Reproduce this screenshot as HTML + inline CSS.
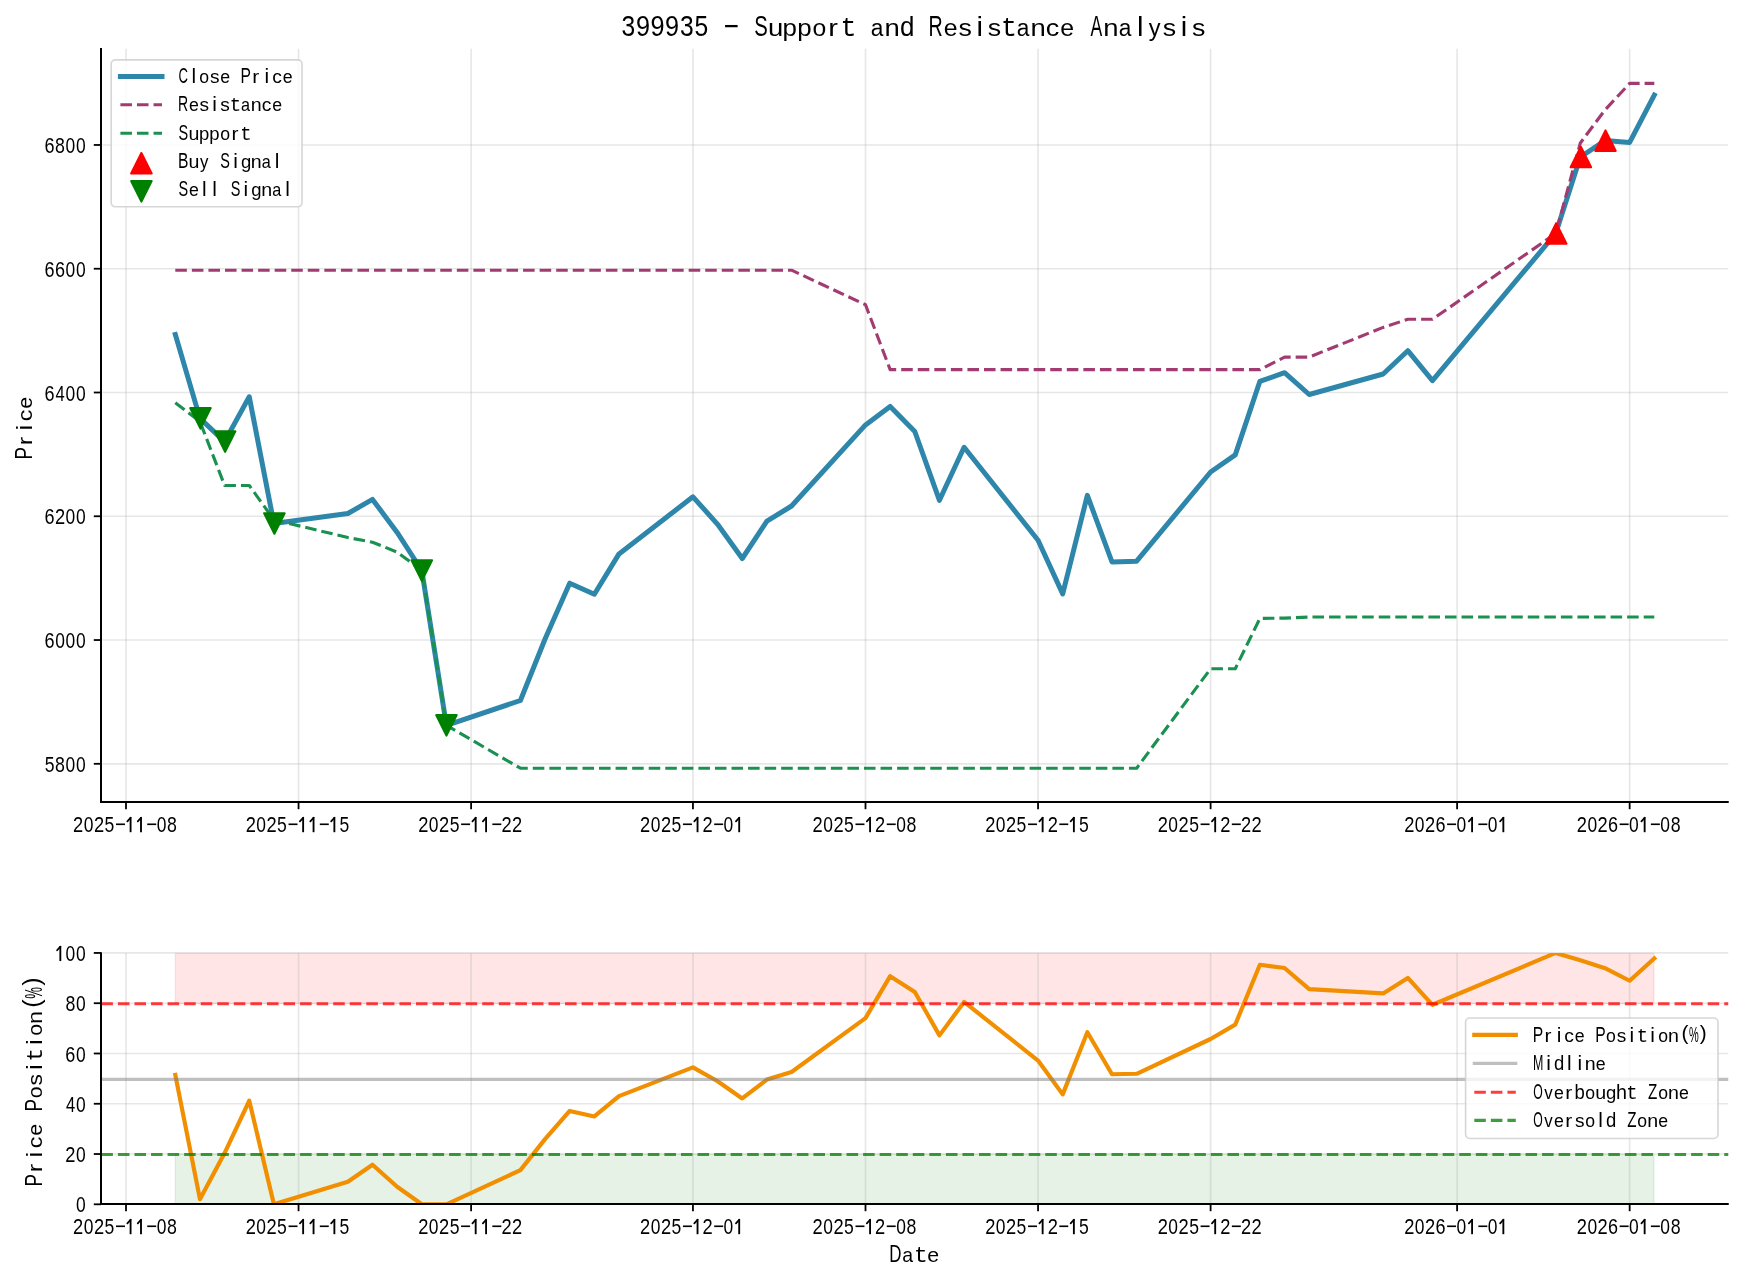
<!DOCTYPE html>
<html><head><meta charset="utf-8"><title>399935 - Support and Resistance Analysis</title>
<style>html,body{margin:0;padding:0;background:#fff;}svg{display:block;will-change:transform;}</style>
</head><body>
<svg width="1743" height="1281" viewBox="0 0 1743 1281" font-family="Liberation Sans, sans-serif">
<rect width="1743" height="1281" fill="#fff"/>
<defs>
<clipPath id="ct"><rect x="101.35" y="48.8" width="1626.9" height="753.2"/></clipPath>
<clipPath id="cb"><rect x="101.35" y="952.95" width="1626.9" height="250.34999999999997"/></clipPath>
</defs>
<line x1="126.00" y1="48.8" x2="126.00" y2="801.0" stroke="#b0b0b0" stroke-opacity="0.3" stroke-width="1.67"/>
<line x1="298.55" y1="48.8" x2="298.55" y2="801.0" stroke="#b0b0b0" stroke-opacity="0.3" stroke-width="1.67"/>
<line x1="471.10" y1="48.8" x2="471.10" y2="801.0" stroke="#b0b0b0" stroke-opacity="0.3" stroke-width="1.67"/>
<line x1="692.95" y1="48.8" x2="692.95" y2="801.0" stroke="#b0b0b0" stroke-opacity="0.3" stroke-width="1.67"/>
<line x1="865.50" y1="48.8" x2="865.50" y2="801.0" stroke="#b0b0b0" stroke-opacity="0.3" stroke-width="1.67"/>
<line x1="1038.05" y1="48.8" x2="1038.05" y2="801.0" stroke="#b0b0b0" stroke-opacity="0.3" stroke-width="1.67"/>
<line x1="1210.60" y1="48.8" x2="1210.60" y2="801.0" stroke="#b0b0b0" stroke-opacity="0.3" stroke-width="1.67"/>
<line x1="1457.10" y1="48.8" x2="1457.10" y2="801.0" stroke="#b0b0b0" stroke-opacity="0.3" stroke-width="1.67"/>
<line x1="1629.65" y1="48.8" x2="1629.65" y2="801.0" stroke="#b0b0b0" stroke-opacity="0.3" stroke-width="1.67"/>
<line x1="102.35" y1="763.80" x2="1728.25" y2="763.80" stroke="#b0b0b0" stroke-opacity="0.3" stroke-width="1.67"/>
<line x1="102.35" y1="640.03" x2="1728.25" y2="640.03" stroke="#b0b0b0" stroke-opacity="0.3" stroke-width="1.67"/>
<line x1="102.35" y1="516.26" x2="1728.25" y2="516.26" stroke="#b0b0b0" stroke-opacity="0.3" stroke-width="1.67"/>
<line x1="102.35" y1="392.50" x2="1728.25" y2="392.50" stroke="#b0b0b0" stroke-opacity="0.3" stroke-width="1.67"/>
<line x1="102.35" y1="268.73" x2="1728.25" y2="268.73" stroke="#b0b0b0" stroke-opacity="0.3" stroke-width="1.67"/>
<line x1="102.35" y1="144.96" x2="1728.25" y2="144.96" stroke="#b0b0b0" stroke-opacity="0.3" stroke-width="1.67"/>
<g clip-path="url(#ct)">
<polyline points="175.30,334.50 199.95,418.40 224.60,441.60 249.25,396.80 273.90,523.45 347.85,513.50 372.50,499.40 397.15,532.40 421.80,570.50 446.45,725.40 520.40,700.50 545.05,639.00 569.70,583.20 594.35,594.20 619.00,553.90 692.95,496.80 717.60,524.30 742.25,558.50 766.90,521.10 791.55,506.00 865.50,424.90 890.15,406.40 914.80,431.50 939.45,500.30 964.10,447.30 1038.05,540.20 1062.70,593.90 1087.35,495.40 1112.00,562.00 1136.65,561.20 1210.60,472.00 1235.25,454.90 1259.90,381.30 1284.55,372.70 1309.20,394.50 1383.15,374.00 1407.80,350.70 1432.45,380.70 1555.70,233.50 1580.35,157.00 1605.00,140.60 1629.65,142.40 1654.30,95.00" fill="none" stroke="#2E86AB" stroke-width="5.0" stroke-linecap="square" stroke-linejoin="round"/>
<polyline points="175.30,270.20 199.95,270.20 224.60,270.20 249.25,270.20 273.90,270.20 347.85,270.20 372.50,270.20 397.15,270.20 421.80,270.20 446.45,270.20 520.40,270.20 545.05,270.20 569.70,270.20 594.35,270.20 619.00,270.20 692.95,270.20 717.60,270.20 742.25,270.20 766.90,270.20 791.55,270.20 865.50,304.70 890.15,369.60 914.80,369.60 939.45,369.60 964.10,369.60 1038.05,369.60 1062.70,369.60 1087.35,369.60 1112.00,369.60 1136.65,369.60 1210.60,369.60 1235.25,369.60 1259.90,369.60 1284.55,357.10 1309.20,357.10 1383.15,327.40 1407.80,319.30 1432.45,319.30 1555.70,233.50 1580.35,143.00 1605.00,109.90 1629.65,83.40 1654.30,83.40" fill="none" stroke="#A23B72" stroke-width="3.125" stroke-dasharray="11.56 5.0" stroke-linejoin="round"/>
<polyline points="175.30,402.70 199.95,421.50 224.60,485.50 249.25,485.50 273.90,519.80 347.85,537.50 372.50,542.20 397.15,552.10 421.80,570.50 446.45,725.40 520.40,768.20 545.05,768.20 569.70,768.20 594.35,768.20 619.00,768.20 692.95,768.20 717.60,768.20 742.25,768.20 766.90,768.20 791.55,768.20 865.50,768.20 890.15,768.20 914.80,768.20 939.45,768.20 964.10,768.20 1038.05,768.20 1062.70,768.20 1087.35,768.20 1112.00,768.20 1136.65,768.20 1210.60,668.70 1235.25,668.70 1259.90,618.40 1284.55,618.10 1309.20,617.00 1383.15,617.00 1407.80,617.00 1432.45,617.00 1555.70,617.00 1580.35,617.00 1605.00,617.00 1629.65,617.00 1654.30,617.00" fill="none" stroke="#1A9150" stroke-width="3.125" stroke-dasharray="11.56 5.0" stroke-linejoin="round"/>
<g fill="#ff0000" stroke="#ff0000" stroke-width="2.1" stroke-linejoin="round"><polygon points="1556.20,223.25 1545.95,243.75 1566.45,243.75"/><polygon points="1580.85,146.75 1570.60,167.25 1591.10,167.25"/><polygon points="1605.50,130.35 1595.25,150.85 1615.75,150.85"/></g>
<g fill="#008000" stroke="#008000" stroke-width="2.1" stroke-linejoin="round"><polygon points="190.20,408.15 210.70,408.15 200.45,428.65"/><polygon points="214.85,431.35 235.35,431.35 225.10,451.85"/><polygon points="264.15,513.20 284.65,513.20 274.40,533.70"/><polygon points="411.55,560.25 432.05,560.25 421.80,580.75"/><polygon points="436.20,715.15 456.70,715.15 446.45,735.65"/></g>
</g>
<line x1="101" y1="48" x2="101" y2="803" stroke="#000" stroke-width="2"/>
<line x1="100" y1="802" x2="1728.75" y2="802" stroke="#000" stroke-width="2"/>
<line x1="126.00" y1="802" x2="126.00" y2="809.2" stroke="#000" stroke-width="1.8"/>
<line x1="298.55" y1="802" x2="298.55" y2="809.2" stroke="#000" stroke-width="1.8"/>
<line x1="471.10" y1="802" x2="471.10" y2="809.2" stroke="#000" stroke-width="1.8"/>
<line x1="692.95" y1="802" x2="692.95" y2="809.2" stroke="#000" stroke-width="1.8"/>
<line x1="865.50" y1="802" x2="865.50" y2="809.2" stroke="#000" stroke-width="1.8"/>
<line x1="1038.05" y1="802" x2="1038.05" y2="809.2" stroke="#000" stroke-width="1.8"/>
<line x1="1210.60" y1="802" x2="1210.60" y2="809.2" stroke="#000" stroke-width="1.8"/>
<line x1="1457.10" y1="802" x2="1457.10" y2="809.2" stroke="#000" stroke-width="1.8"/>
<line x1="1629.65" y1="802" x2="1629.65" y2="809.2" stroke="#000" stroke-width="1.8"/>
<line x1="93.8" y1="763.80" x2="101" y2="763.80" stroke="#000" stroke-width="1.8"/>
<line x1="93.8" y1="640.03" x2="101" y2="640.03" stroke="#000" stroke-width="1.8"/>
<line x1="93.8" y1="516.26" x2="101" y2="516.26" stroke="#000" stroke-width="1.8"/>
<line x1="93.8" y1="392.50" x2="101" y2="392.50" stroke="#000" stroke-width="1.8"/>
<line x1="93.8" y1="268.73" x2="101" y2="268.73" stroke="#000" stroke-width="1.8"/>
<line x1="93.8" y1="144.96" x2="101" y2="144.96" stroke="#000" stroke-width="1.8"/>
<g font-size="20.83" fill="#000"><text transform="translate(73.11,832.20) scale(0.878,1.055)">2</text><text transform="translate(83.76,832.20) scale(0.837,1.055)">0</text><text transform="translate(93.94,832.20) scale(0.878,1.055)">2</text><text transform="translate(104.57,832.20) scale(0.844,1.055)">5</text><rect x="116.00" y="823.47" width="8.96" height="1.62"/><path d="M129.65,817.15H131.52V832.20H129.65Z"/><line x1="130.58" y1="817.77" x2="127.35" y2="821.42" stroke="#000" stroke-width="1.77" stroke-linecap="round"/><path d="M140.06,817.15H141.93V832.20H140.06Z"/><line x1="141.00" y1="817.77" x2="137.77" y2="821.42" stroke="#000" stroke-width="1.77" stroke-linecap="round"/><rect x="147.25" y="823.47" width="8.96" height="1.62"/><text transform="translate(156.67,832.20) scale(0.837,1.055)">0</text><text transform="translate(166.99,832.20) scale(0.852,1.055)">8</text></g>
<g font-size="20.83" fill="#000"><text transform="translate(245.66,832.20) scale(0.878,1.055)">2</text><text transform="translate(256.31,832.20) scale(0.837,1.055)">0</text><text transform="translate(266.49,832.20) scale(0.878,1.055)">2</text><text transform="translate(277.12,832.20) scale(0.844,1.055)">5</text><rect x="288.55" y="823.47" width="8.96" height="1.62"/><path d="M302.20,817.15H304.07V832.20H302.20Z"/><line x1="303.13" y1="817.77" x2="299.90" y2="821.42" stroke="#000" stroke-width="1.77" stroke-linecap="round"/><path d="M312.61,817.15H314.48V832.20H312.61Z"/><line x1="313.55" y1="817.77" x2="310.32" y2="821.42" stroke="#000" stroke-width="1.77" stroke-linecap="round"/><rect x="319.80" y="823.47" width="8.96" height="1.62"/><path d="M333.44,817.15H335.31V832.20H333.44Z"/><line x1="334.38" y1="817.77" x2="331.15" y2="821.42" stroke="#000" stroke-width="1.77" stroke-linecap="round"/><text transform="translate(339.61,832.20) scale(0.844,1.055)">5</text></g>
<g font-size="20.83" fill="#000"><text transform="translate(418.21,832.20) scale(0.878,1.055)">2</text><text transform="translate(428.86,832.20) scale(0.837,1.055)">0</text><text transform="translate(439.04,832.20) scale(0.878,1.055)">2</text><text transform="translate(449.67,832.20) scale(0.844,1.055)">5</text><rect x="461.10" y="823.47" width="8.96" height="1.62"/><path d="M474.75,817.15H476.62V832.20H474.75Z"/><line x1="475.68" y1="817.77" x2="472.45" y2="821.42" stroke="#000" stroke-width="1.77" stroke-linecap="round"/><path d="M485.16,817.15H487.03V832.20H485.16Z"/><line x1="486.10" y1="817.77" x2="482.87" y2="821.42" stroke="#000" stroke-width="1.77" stroke-linecap="round"/><rect x="492.35" y="823.47" width="8.96" height="1.62"/><text transform="translate(501.53,832.20) scale(0.878,1.055)">2</text><text transform="translate(511.94,832.20) scale(0.878,1.055)">2</text></g>
<g font-size="20.83" fill="#000"><text transform="translate(640.06,832.20) scale(0.878,1.055)">2</text><text transform="translate(650.71,832.20) scale(0.837,1.055)">0</text><text transform="translate(660.89,832.20) scale(0.878,1.055)">2</text><text transform="translate(671.52,832.20) scale(0.844,1.055)">5</text><rect x="682.95" y="823.47" width="8.96" height="1.62"/><path d="M696.60,817.15H698.47V832.20H696.60Z"/><line x1="697.53" y1="817.77" x2="694.30" y2="821.42" stroke="#000" stroke-width="1.77" stroke-linecap="round"/><text transform="translate(702.55,832.20) scale(0.878,1.055)">2</text><rect x="714.20" y="823.47" width="8.96" height="1.62"/><text transform="translate(723.62,832.20) scale(0.837,1.055)">0</text><path d="M738.26,817.15H740.13V832.20H738.26Z"/><line x1="739.19" y1="817.77" x2="735.96" y2="821.42" stroke="#000" stroke-width="1.77" stroke-linecap="round"/></g>
<g font-size="20.83" fill="#000"><text transform="translate(812.61,832.20) scale(0.878,1.055)">2</text><text transform="translate(823.26,832.20) scale(0.837,1.055)">0</text><text transform="translate(833.44,832.20) scale(0.878,1.055)">2</text><text transform="translate(844.07,832.20) scale(0.844,1.055)">5</text><rect x="855.50" y="823.47" width="8.96" height="1.62"/><path d="M869.15,817.15H871.02V832.20H869.15Z"/><line x1="870.08" y1="817.77" x2="866.85" y2="821.42" stroke="#000" stroke-width="1.77" stroke-linecap="round"/><text transform="translate(875.10,832.20) scale(0.878,1.055)">2</text><rect x="886.75" y="823.47" width="8.96" height="1.62"/><text transform="translate(896.17,832.20) scale(0.837,1.055)">0</text><text transform="translate(906.49,832.20) scale(0.852,1.055)">8</text></g>
<g font-size="20.83" fill="#000"><text transform="translate(985.16,832.20) scale(0.878,1.055)">2</text><text transform="translate(995.81,832.20) scale(0.837,1.055)">0</text><text transform="translate(1005.99,832.20) scale(0.878,1.055)">2</text><text transform="translate(1016.62,832.20) scale(0.844,1.055)">5</text><rect x="1028.05" y="823.47" width="8.96" height="1.62"/><path d="M1041.70,817.15H1043.57V832.20H1041.70Z"/><line x1="1042.63" y1="817.77" x2="1039.40" y2="821.42" stroke="#000" stroke-width="1.77" stroke-linecap="round"/><text transform="translate(1047.65,832.20) scale(0.878,1.055)">2</text><rect x="1059.30" y="823.47" width="8.96" height="1.62"/><path d="M1072.94,817.15H1074.81V832.20H1072.94Z"/><line x1="1073.88" y1="817.77" x2="1070.65" y2="821.42" stroke="#000" stroke-width="1.77" stroke-linecap="round"/><text transform="translate(1079.11,832.20) scale(0.844,1.055)">5</text></g>
<g font-size="20.83" fill="#000"><text transform="translate(1157.71,832.20) scale(0.878,1.055)">2</text><text transform="translate(1168.36,832.20) scale(0.837,1.055)">0</text><text transform="translate(1178.54,832.20) scale(0.878,1.055)">2</text><text transform="translate(1189.17,832.20) scale(0.844,1.055)">5</text><rect x="1200.60" y="823.47" width="8.96" height="1.62"/><path d="M1214.25,817.15H1216.12V832.20H1214.25Z"/><line x1="1215.18" y1="817.77" x2="1211.95" y2="821.42" stroke="#000" stroke-width="1.77" stroke-linecap="round"/><text transform="translate(1220.20,832.20) scale(0.878,1.055)">2</text><rect x="1231.85" y="823.47" width="8.96" height="1.62"/><text transform="translate(1241.03,832.20) scale(0.878,1.055)">2</text><text transform="translate(1251.44,832.20) scale(0.878,1.055)">2</text></g>
<g font-size="20.83" fill="#000"><text transform="translate(1404.21,832.20) scale(0.878,1.055)">2</text><text transform="translate(1414.86,832.20) scale(0.837,1.055)">0</text><text transform="translate(1425.04,832.20) scale(0.878,1.055)">2</text><text transform="translate(1435.46,832.20) scale(0.867,1.055)">6</text><rect x="1447.10" y="823.47" width="8.96" height="1.62"/><text transform="translate(1456.52,832.20) scale(0.837,1.055)">0</text><path d="M1471.16,817.15H1473.03V832.20H1471.16Z"/><line x1="1472.10" y1="817.77" x2="1468.87" y2="821.42" stroke="#000" stroke-width="1.77" stroke-linecap="round"/><rect x="1478.35" y="823.47" width="8.96" height="1.62"/><text transform="translate(1487.77,832.20) scale(0.837,1.055)">0</text><path d="M1502.41,817.15H1504.28V832.20H1502.41Z"/><line x1="1503.34" y1="817.77" x2="1500.11" y2="821.42" stroke="#000" stroke-width="1.77" stroke-linecap="round"/></g>
<g font-size="20.83" fill="#000"><text transform="translate(1576.76,832.20) scale(0.878,1.055)">2</text><text transform="translate(1587.41,832.20) scale(0.837,1.055)">0</text><text transform="translate(1597.59,832.20) scale(0.878,1.055)">2</text><text transform="translate(1608.01,832.20) scale(0.867,1.055)">6</text><rect x="1619.65" y="823.47" width="8.96" height="1.62"/><text transform="translate(1629.07,832.20) scale(0.837,1.055)">0</text><path d="M1643.71,817.15H1645.58V832.20H1643.71Z"/><line x1="1644.65" y1="817.77" x2="1641.42" y2="821.42" stroke="#000" stroke-width="1.77" stroke-linecap="round"/><rect x="1650.90" y="823.47" width="8.96" height="1.62"/><text transform="translate(1660.32,832.20) scale(0.837,1.055)">0</text><text transform="translate(1670.64,832.20) scale(0.852,1.055)">8</text></g>
<g font-size="20.83" fill="#000"><text transform="translate(44.74,771.90) scale(0.844,1.055)">5</text><text transform="translate(55.09,771.90) scale(0.852,1.055)">8</text><text transform="translate(65.59,771.90) scale(0.837,1.055)">0</text><text transform="translate(76.01,771.90) scale(0.837,1.055)">0</text></g>
<g font-size="20.83" fill="#000"><text transform="translate(44.53,648.13) scale(0.867,1.055)">6</text><text transform="translate(55.18,648.13) scale(0.837,1.055)">0</text><text transform="translate(65.59,648.13) scale(0.837,1.055)">0</text><text transform="translate(76.01,648.13) scale(0.837,1.055)">0</text></g>
<g font-size="20.83" fill="#000"><text transform="translate(44.53,524.36) scale(0.867,1.055)">6</text><text transform="translate(54.94,524.36) scale(0.878,1.055)">2</text><text transform="translate(65.59,524.36) scale(0.837,1.055)">0</text><text transform="translate(76.01,524.36) scale(0.837,1.055)">0</text></g>
<g font-size="20.83" fill="#000"><text transform="translate(44.53,400.60) scale(0.867,1.055)">6</text><text transform="translate(55.48,400.60) scale(0.794,1.055)">4</text><text transform="translate(65.59,400.60) scale(0.837,1.055)">0</text><text transform="translate(76.01,400.60) scale(0.837,1.055)">0</text></g>
<g font-size="20.83" fill="#000"><text transform="translate(44.53,276.83) scale(0.867,1.055)">6</text><text transform="translate(54.94,276.83) scale(0.867,1.055)">6</text><text transform="translate(65.59,276.83) scale(0.837,1.055)">0</text><text transform="translate(76.01,276.83) scale(0.837,1.055)">0</text></g>
<g font-size="20.83" fill="#000"><text transform="translate(44.53,153.06) scale(0.867,1.055)">6</text><text transform="translate(55.09,153.06) scale(0.852,1.055)">8</text><text transform="translate(65.59,153.06) scale(0.837,1.055)">0</text><text transform="translate(76.01,153.06) scale(0.837,1.055)">0</text></g>
<rect x="175.3" y="953.35" width="1478.70" height="50.27" fill="#ff0000" fill-opacity="0.1" stroke="#ff0000" stroke-opacity="0.1" stroke-width="1.2"/>
<rect x="175.3" y="1154.03" width="1478.70" height="50.27" fill="#008000" fill-opacity="0.1" stroke="#008000" stroke-opacity="0.1" stroke-width="1.2" clip-path="url(#cb)"/>
<line x1="126.00" y1="952.95" x2="126.00" y2="1203.0" stroke="#b0b0b0" stroke-opacity="0.3" stroke-width="1.67"/>
<line x1="298.55" y1="952.95" x2="298.55" y2="1203.0" stroke="#b0b0b0" stroke-opacity="0.3" stroke-width="1.67"/>
<line x1="471.10" y1="952.95" x2="471.10" y2="1203.0" stroke="#b0b0b0" stroke-opacity="0.3" stroke-width="1.67"/>
<line x1="692.95" y1="952.95" x2="692.95" y2="1203.0" stroke="#b0b0b0" stroke-opacity="0.3" stroke-width="1.67"/>
<line x1="865.50" y1="952.95" x2="865.50" y2="1203.0" stroke="#b0b0b0" stroke-opacity="0.3" stroke-width="1.67"/>
<line x1="1038.05" y1="952.95" x2="1038.05" y2="1203.0" stroke="#b0b0b0" stroke-opacity="0.3" stroke-width="1.67"/>
<line x1="1210.60" y1="952.95" x2="1210.60" y2="1203.0" stroke="#b0b0b0" stroke-opacity="0.3" stroke-width="1.67"/>
<line x1="1457.10" y1="952.95" x2="1457.10" y2="1203.0" stroke="#b0b0b0" stroke-opacity="0.3" stroke-width="1.67"/>
<line x1="1629.65" y1="952.95" x2="1629.65" y2="1203.0" stroke="#b0b0b0" stroke-opacity="0.3" stroke-width="1.67"/>
<line x1="102.35" y1="1154.03" x2="1728.25" y2="1154.03" stroke="#b0b0b0" stroke-opacity="0.3" stroke-width="1.67"/>
<line x1="102.35" y1="1103.76" x2="1728.25" y2="1103.76" stroke="#b0b0b0" stroke-opacity="0.3" stroke-width="1.67"/>
<line x1="102.35" y1="1053.49" x2="1728.25" y2="1053.49" stroke="#b0b0b0" stroke-opacity="0.3" stroke-width="1.67"/>
<line x1="102.35" y1="1003.22" x2="1728.25" y2="1003.22" stroke="#b0b0b0" stroke-opacity="0.3" stroke-width="1.67"/>
<line x1="102.35" y1="952.95" x2="1728.25" y2="952.95" stroke="#b0b0b0" stroke-opacity="0.3" stroke-width="1.67"/>
<g clip-path="url(#cb)">
<polyline points="175.30,1074.93 199.95,1199.15 224.60,1153.05 249.25,1100.75 273.90,1204.30 347.85,1181.73 372.50,1164.75 397.15,1186.73 421.80,1204.30 446.45,1204.30 520.40,1170.13 545.05,1139.09 569.70,1110.93 594.35,1116.48 619.00,1096.14 692.95,1067.32 717.60,1081.20 742.25,1098.46 766.90,1079.58 791.55,1071.96 865.50,1018.13 890.15,976.16 914.80,991.98 939.45,1035.37 964.10,1001.95 1038.05,1060.53 1062.70,1094.39 1087.35,1032.28 1112.00,1074.27 1136.65,1073.77 1210.60,1039.00 1235.25,1024.63 1259.90,964.77 1284.55,967.97 1309.20,989.12 1383.15,993.40 1407.80,977.90 1432.45,1004.79 1555.70,952.95 1580.35,960.37 1605.00,968.17 1629.65,980.74 1654.30,958.41" fill="none" stroke="#F18F01" stroke-width="4.17" stroke-linecap="square" stroke-linejoin="round"/>
</g>
<line x1="101.35" y1="1079.4" x2="1728.25" y2="1079.4" stroke="#808080" stroke-opacity="0.5" stroke-width="3.125"/>
<line x1="101.35" y1="1003.72" x2="1728.25" y2="1003.72" stroke="#ff0000" stroke-opacity="0.76" stroke-width="3.125" stroke-dasharray="11.56 5.0"/>
<line x1="101.35" y1="1154.53" x2="1728.25" y2="1154.53" stroke="#008000" stroke-opacity="0.76" stroke-width="3.125" stroke-dasharray="11.56 5.0"/>
<line x1="101" y1="952.15" x2="101" y2="1205" stroke="#000" stroke-width="2"/>
<line x1="100" y1="1204" x2="1728.75" y2="1204" stroke="#000" stroke-width="2"/>
<line x1="126.00" y1="1204" x2="126.00" y2="1211.2" stroke="#000" stroke-width="1.8"/>
<line x1="298.55" y1="1204" x2="298.55" y2="1211.2" stroke="#000" stroke-width="1.8"/>
<line x1="471.10" y1="1204" x2="471.10" y2="1211.2" stroke="#000" stroke-width="1.8"/>
<line x1="692.95" y1="1204" x2="692.95" y2="1211.2" stroke="#000" stroke-width="1.8"/>
<line x1="865.50" y1="1204" x2="865.50" y2="1211.2" stroke="#000" stroke-width="1.8"/>
<line x1="1038.05" y1="1204" x2="1038.05" y2="1211.2" stroke="#000" stroke-width="1.8"/>
<line x1="1210.60" y1="1204" x2="1210.60" y2="1211.2" stroke="#000" stroke-width="1.8"/>
<line x1="1457.10" y1="1204" x2="1457.10" y2="1211.2" stroke="#000" stroke-width="1.8"/>
<line x1="1629.65" y1="1204" x2="1629.65" y2="1211.2" stroke="#000" stroke-width="1.8"/>
<line x1="93.8" y1="1204.30" x2="101" y2="1204.30" stroke="#000" stroke-width="1.8"/>
<line x1="93.8" y1="1154.03" x2="101" y2="1154.03" stroke="#000" stroke-width="1.8"/>
<line x1="93.8" y1="1103.76" x2="101" y2="1103.76" stroke="#000" stroke-width="1.8"/>
<line x1="93.8" y1="1053.49" x2="101" y2="1053.49" stroke="#000" stroke-width="1.8"/>
<line x1="93.8" y1="1003.22" x2="101" y2="1003.22" stroke="#000" stroke-width="1.8"/>
<line x1="93.8" y1="952.95" x2="101" y2="952.95" stroke="#000" stroke-width="1.8"/>
<g font-size="20.83" fill="#000"><text transform="translate(73.11,1234.20) scale(0.878,1.055)">2</text><text transform="translate(83.76,1234.20) scale(0.837,1.055)">0</text><text transform="translate(93.94,1234.20) scale(0.878,1.055)">2</text><text transform="translate(104.57,1234.20) scale(0.844,1.055)">5</text><rect x="116.00" y="1225.47" width="8.96" height="1.62"/><path d="M129.65,1219.15H131.52V1234.20H129.65Z"/><line x1="130.58" y1="1219.77" x2="127.35" y2="1223.42" stroke="#000" stroke-width="1.77" stroke-linecap="round"/><path d="M140.06,1219.15H141.93V1234.20H140.06Z"/><line x1="141.00" y1="1219.77" x2="137.77" y2="1223.42" stroke="#000" stroke-width="1.77" stroke-linecap="round"/><rect x="147.25" y="1225.47" width="8.96" height="1.62"/><text transform="translate(156.67,1234.20) scale(0.837,1.055)">0</text><text transform="translate(166.99,1234.20) scale(0.852,1.055)">8</text></g>
<g font-size="20.83" fill="#000"><text transform="translate(245.66,1234.20) scale(0.878,1.055)">2</text><text transform="translate(256.31,1234.20) scale(0.837,1.055)">0</text><text transform="translate(266.49,1234.20) scale(0.878,1.055)">2</text><text transform="translate(277.12,1234.20) scale(0.844,1.055)">5</text><rect x="288.55" y="1225.47" width="8.96" height="1.62"/><path d="M302.20,1219.15H304.07V1234.20H302.20Z"/><line x1="303.13" y1="1219.77" x2="299.90" y2="1223.42" stroke="#000" stroke-width="1.77" stroke-linecap="round"/><path d="M312.61,1219.15H314.48V1234.20H312.61Z"/><line x1="313.55" y1="1219.77" x2="310.32" y2="1223.42" stroke="#000" stroke-width="1.77" stroke-linecap="round"/><rect x="319.80" y="1225.47" width="8.96" height="1.62"/><path d="M333.44,1219.15H335.31V1234.20H333.44Z"/><line x1="334.38" y1="1219.77" x2="331.15" y2="1223.42" stroke="#000" stroke-width="1.77" stroke-linecap="round"/><text transform="translate(339.61,1234.20) scale(0.844,1.055)">5</text></g>
<g font-size="20.83" fill="#000"><text transform="translate(418.21,1234.20) scale(0.878,1.055)">2</text><text transform="translate(428.86,1234.20) scale(0.837,1.055)">0</text><text transform="translate(439.04,1234.20) scale(0.878,1.055)">2</text><text transform="translate(449.67,1234.20) scale(0.844,1.055)">5</text><rect x="461.10" y="1225.47" width="8.96" height="1.62"/><path d="M474.75,1219.15H476.62V1234.20H474.75Z"/><line x1="475.68" y1="1219.77" x2="472.45" y2="1223.42" stroke="#000" stroke-width="1.77" stroke-linecap="round"/><path d="M485.16,1219.15H487.03V1234.20H485.16Z"/><line x1="486.10" y1="1219.77" x2="482.87" y2="1223.42" stroke="#000" stroke-width="1.77" stroke-linecap="round"/><rect x="492.35" y="1225.47" width="8.96" height="1.62"/><text transform="translate(501.53,1234.20) scale(0.878,1.055)">2</text><text transform="translate(511.94,1234.20) scale(0.878,1.055)">2</text></g>
<g font-size="20.83" fill="#000"><text transform="translate(640.06,1234.20) scale(0.878,1.055)">2</text><text transform="translate(650.71,1234.20) scale(0.837,1.055)">0</text><text transform="translate(660.89,1234.20) scale(0.878,1.055)">2</text><text transform="translate(671.52,1234.20) scale(0.844,1.055)">5</text><rect x="682.95" y="1225.47" width="8.96" height="1.62"/><path d="M696.60,1219.15H698.47V1234.20H696.60Z"/><line x1="697.53" y1="1219.77" x2="694.30" y2="1223.42" stroke="#000" stroke-width="1.77" stroke-linecap="round"/><text transform="translate(702.55,1234.20) scale(0.878,1.055)">2</text><rect x="714.20" y="1225.47" width="8.96" height="1.62"/><text transform="translate(723.62,1234.20) scale(0.837,1.055)">0</text><path d="M738.26,1219.15H740.13V1234.20H738.26Z"/><line x1="739.19" y1="1219.77" x2="735.96" y2="1223.42" stroke="#000" stroke-width="1.77" stroke-linecap="round"/></g>
<g font-size="20.83" fill="#000"><text transform="translate(812.61,1234.20) scale(0.878,1.055)">2</text><text transform="translate(823.26,1234.20) scale(0.837,1.055)">0</text><text transform="translate(833.44,1234.20) scale(0.878,1.055)">2</text><text transform="translate(844.07,1234.20) scale(0.844,1.055)">5</text><rect x="855.50" y="1225.47" width="8.96" height="1.62"/><path d="M869.15,1219.15H871.02V1234.20H869.15Z"/><line x1="870.08" y1="1219.77" x2="866.85" y2="1223.42" stroke="#000" stroke-width="1.77" stroke-linecap="round"/><text transform="translate(875.10,1234.20) scale(0.878,1.055)">2</text><rect x="886.75" y="1225.47" width="8.96" height="1.62"/><text transform="translate(896.17,1234.20) scale(0.837,1.055)">0</text><text transform="translate(906.49,1234.20) scale(0.852,1.055)">8</text></g>
<g font-size="20.83" fill="#000"><text transform="translate(985.16,1234.20) scale(0.878,1.055)">2</text><text transform="translate(995.81,1234.20) scale(0.837,1.055)">0</text><text transform="translate(1005.99,1234.20) scale(0.878,1.055)">2</text><text transform="translate(1016.62,1234.20) scale(0.844,1.055)">5</text><rect x="1028.05" y="1225.47" width="8.96" height="1.62"/><path d="M1041.70,1219.15H1043.57V1234.20H1041.70Z"/><line x1="1042.63" y1="1219.77" x2="1039.40" y2="1223.42" stroke="#000" stroke-width="1.77" stroke-linecap="round"/><text transform="translate(1047.65,1234.20) scale(0.878,1.055)">2</text><rect x="1059.30" y="1225.47" width="8.96" height="1.62"/><path d="M1072.94,1219.15H1074.81V1234.20H1072.94Z"/><line x1="1073.88" y1="1219.77" x2="1070.65" y2="1223.42" stroke="#000" stroke-width="1.77" stroke-linecap="round"/><text transform="translate(1079.11,1234.20) scale(0.844,1.055)">5</text></g>
<g font-size="20.83" fill="#000"><text transform="translate(1157.71,1234.20) scale(0.878,1.055)">2</text><text transform="translate(1168.36,1234.20) scale(0.837,1.055)">0</text><text transform="translate(1178.54,1234.20) scale(0.878,1.055)">2</text><text transform="translate(1189.17,1234.20) scale(0.844,1.055)">5</text><rect x="1200.60" y="1225.47" width="8.96" height="1.62"/><path d="M1214.25,1219.15H1216.12V1234.20H1214.25Z"/><line x1="1215.18" y1="1219.77" x2="1211.95" y2="1223.42" stroke="#000" stroke-width="1.77" stroke-linecap="round"/><text transform="translate(1220.20,1234.20) scale(0.878,1.055)">2</text><rect x="1231.85" y="1225.47" width="8.96" height="1.62"/><text transform="translate(1241.03,1234.20) scale(0.878,1.055)">2</text><text transform="translate(1251.44,1234.20) scale(0.878,1.055)">2</text></g>
<g font-size="20.83" fill="#000"><text transform="translate(1404.21,1234.20) scale(0.878,1.055)">2</text><text transform="translate(1414.86,1234.20) scale(0.837,1.055)">0</text><text transform="translate(1425.04,1234.20) scale(0.878,1.055)">2</text><text transform="translate(1435.46,1234.20) scale(0.867,1.055)">6</text><rect x="1447.10" y="1225.47" width="8.96" height="1.62"/><text transform="translate(1456.52,1234.20) scale(0.837,1.055)">0</text><path d="M1471.16,1219.15H1473.03V1234.20H1471.16Z"/><line x1="1472.10" y1="1219.77" x2="1468.87" y2="1223.42" stroke="#000" stroke-width="1.77" stroke-linecap="round"/><rect x="1478.35" y="1225.47" width="8.96" height="1.62"/><text transform="translate(1487.77,1234.20) scale(0.837,1.055)">0</text><path d="M1502.41,1219.15H1504.28V1234.20H1502.41Z"/><line x1="1503.34" y1="1219.77" x2="1500.11" y2="1223.42" stroke="#000" stroke-width="1.77" stroke-linecap="round"/></g>
<g font-size="20.83" fill="#000"><text transform="translate(1576.76,1234.20) scale(0.878,1.055)">2</text><text transform="translate(1587.41,1234.20) scale(0.837,1.055)">0</text><text transform="translate(1597.59,1234.20) scale(0.878,1.055)">2</text><text transform="translate(1608.01,1234.20) scale(0.867,1.055)">6</text><rect x="1619.65" y="1225.47" width="8.96" height="1.62"/><text transform="translate(1629.07,1234.20) scale(0.837,1.055)">0</text><path d="M1643.71,1219.15H1645.58V1234.20H1643.71Z"/><line x1="1644.65" y1="1219.77" x2="1641.42" y2="1223.42" stroke="#000" stroke-width="1.77" stroke-linecap="round"/><rect x="1650.90" y="1225.47" width="8.96" height="1.62"/><text transform="translate(1660.32,1234.20) scale(0.837,1.055)">0</text><text transform="translate(1670.64,1234.20) scale(0.852,1.055)">8</text></g>
<g font-size="20.83" fill="#000"><text transform="translate(76.01,1212.40) scale(0.837,1.055)">0</text></g>
<g font-size="20.83" fill="#000"><text transform="translate(65.35,1162.13) scale(0.878,1.055)">2</text><text transform="translate(76.01,1162.13) scale(0.837,1.055)">0</text></g>
<g font-size="20.83" fill="#000"><text transform="translate(65.89,1111.86) scale(0.794,1.055)">4</text><text transform="translate(76.01,1111.86) scale(0.837,1.055)">0</text></g>
<g font-size="20.83" fill="#000"><text transform="translate(65.36,1061.59) scale(0.867,1.055)">6</text><text transform="translate(76.01,1061.59) scale(0.837,1.055)">0</text></g>
<g font-size="20.83" fill="#000"><text transform="translate(65.50,1011.32) scale(0.852,1.055)">8</text><text transform="translate(76.01,1011.32) scale(0.837,1.055)">0</text></g>
<g font-size="20.83" fill="#000"><path d="M59.40,946.00H61.27V961.05H59.40Z"/><line x1="60.34" y1="946.62" x2="57.11" y2="950.27" stroke="#000" stroke-width="1.77" stroke-linecap="round"/><text transform="translate(65.59,961.05) scale(0.837,1.055)">0</text><text transform="translate(76.01,961.05) scale(0.837,1.055)">0</text></g>
<rect x="111.2" y="59.9" width="190.8" height="146.9" rx="4.2" ry="4.2" fill="#fff" fill-opacity="0.8" stroke="#cccccc" stroke-opacity="0.8" stroke-width="1.6"/>
<line x1="120.4" y1="76.4" x2="162.0" y2="76.4" stroke="#2E86AB" stroke-width="5.0" stroke-linecap="square"/>
<line x1="120.4" y1="104.80000000000001" x2="162.0" y2="104.80000000000001" stroke="#A23B72" stroke-width="3.125" stroke-dasharray="11.56 5.0"/>
<line x1="120.4" y1="133.2" x2="162.0" y2="133.2" stroke="#1A9150" stroke-width="3.125" stroke-dasharray="11.56 5.0"/>
<g fill="#ff0000" stroke="#ff0000" stroke-width="2.1" stroke-linejoin="round"><polygon points="141.40,153.05 131.15,173.55 151.65,173.55"/></g>
<g fill="#008000" stroke="#008000" stroke-width="2.1" stroke-linejoin="round"><polygon points="131.15,181.15 151.65,181.15 141.40,201.65"/></g>
<g font-size="20.83" fill="#000"><text transform="translate(178.57,82.80) scale(0.632,1.055)">C</text><text transform="translate(191.50,82.80) scale(1.000,1.002)">l</text><text transform="translate(199.33,82.80) scale(0.847,0.920)">o</text><text transform="translate(209.95,82.80) scale(0.917,0.920)">s</text><text transform="translate(220.15,82.80) scale(0.852,0.920)">e</text><text transform="translate(240.45,82.80) scale(0.752,1.055)">P</text><text transform="translate(252.33,82.80) scale(1.000,0.920)">r</text><text transform="translate(264.42,82.80) scale(1.000,1.002)">i</text><text transform="translate(272.16,82.80) scale(0.928,0.920)">c</text><text transform="translate(282.64,82.80) scale(0.852,0.920)">e</text></g>
<g font-size="20.83" fill="#000"><text transform="translate(178.09,111.20) scale(0.674,1.055)">R</text><text transform="translate(188.90,111.20) scale(0.852,0.920)">e</text><text transform="translate(199.54,111.20) scale(0.917,0.920)">s</text><text transform="translate(212.34,111.20) scale(1.000,1.002)">i</text><text transform="translate(220.37,111.20) scale(0.917,0.920)">s</text><text font-family="Liberation Mono" transform="translate(229.86,111.20) scale(0.916,1.002)">t</text><text transform="translate(241.04,111.20) scale(0.779,0.920)">a</text><text transform="translate(250.84,111.20) scale(0.942,0.920)">n</text><text transform="translate(261.74,111.20) scale(0.928,0.920)">c</text><text transform="translate(272.22,111.20) scale(0.852,0.920)">e</text></g>
<g font-size="20.83" fill="#000"><text transform="translate(178.58,139.60) scale(0.695,1.055)">S</text><text transform="translate(188.38,139.60) scale(0.942,0.920)">u</text><text transform="translate(198.88,139.60) scale(0.889,0.920)">p</text><text transform="translate(209.29,139.60) scale(0.889,0.920)">p</text><text transform="translate(220.16,139.60) scale(0.847,0.920)">o</text><text transform="translate(231.50,139.60) scale(1.000,0.920)">r</text><text font-family="Liberation Mono" transform="translate(240.27,139.60) scale(0.916,1.002)">t</text></g>
<g font-size="20.83" fill="#000"><text transform="translate(177.96,168.00) scale(0.752,1.055)">B</text><text transform="translate(188.38,168.00) scale(0.942,0.920)">u</text><text transform="translate(200.03,168.00) scale(0.807,0.920)">y</text><text transform="translate(220.24,168.00) scale(0.695,1.055)">S</text><text transform="translate(233.17,168.00) scale(1.000,1.002)">i</text><text transform="translate(240.95,168.00) scale(0.889,0.920)">g</text><text transform="translate(250.84,168.00) scale(0.942,0.920)">n</text><text transform="translate(261.87,168.00) scale(0.779,0.920)">a</text><text transform="translate(274.82,168.00) scale(1.000,1.002)">l</text></g>
<g font-size="20.83" fill="#000"><text transform="translate(178.58,196.40) scale(0.695,1.055)">S</text><text transform="translate(188.90,196.40) scale(0.852,0.920)">e</text><text transform="translate(201.92,196.40) scale(1.000,1.002)">l</text><text transform="translate(212.33,196.40) scale(1.000,1.002)">l</text><text transform="translate(230.66,196.40) scale(0.695,1.055)">S</text><text transform="translate(243.59,196.40) scale(1.000,1.002)">i</text><text transform="translate(251.37,196.40) scale(0.889,0.920)">g</text><text transform="translate(261.26,196.40) scale(0.942,0.920)">n</text><text transform="translate(272.29,196.40) scale(0.779,0.920)">a</text><text transform="translate(285.24,196.40) scale(1.000,1.002)">l</text></g>
<rect x="1465.6" y="1018.0" width="252.4000000000001" height="120.5" rx="4.2" ry="4.2" fill="#fff" fill-opacity="0.8" stroke="#cccccc" stroke-opacity="0.8" stroke-width="1.6"/>
<line x1="1474.3" y1="1034.8" x2="1515.8" y2="1034.8" stroke="#F18F01" stroke-width="4.17" stroke-linecap="square"/>
<line x1="1474.3" y1="1063.4" x2="1515.8" y2="1063.4" stroke="#808080" stroke-opacity="0.5" stroke-width="3.125" stroke-linecap="square"/>
<line x1="1474.3" y1="1092.2" x2="1515.8" y2="1092.2" stroke="#ff0000" stroke-opacity="0.76" stroke-width="3.125" stroke-dasharray="11.56 5.0"/>
<line x1="1474.3" y1="1120.4" x2="1515.8" y2="1120.4" stroke="#008000" stroke-opacity="0.76" stroke-width="3.125" stroke-dasharray="11.56 5.0"/>
<g font-size="20.83" fill="#000"><text transform="translate(1532.66,1042.10) scale(0.752,1.055)">P</text><text transform="translate(1544.54,1042.10) scale(1.000,0.920)">r</text><text transform="translate(1556.63,1042.10) scale(1.000,1.002)">i</text><text transform="translate(1564.37,1042.10) scale(0.928,0.920)">c</text><text transform="translate(1574.85,1042.10) scale(0.852,0.920)">e</text><text transform="translate(1595.15,1042.10) scale(0.752,1.055)">P</text><text transform="translate(1606.11,1042.10) scale(0.847,0.920)">o</text><text transform="translate(1616.73,1042.10) scale(0.917,0.920)">s</text><text transform="translate(1629.53,1042.10) scale(1.000,1.002)">i</text><text font-family="Liberation Mono" transform="translate(1636.63,1042.10) scale(0.916,1.002)">t</text><text transform="translate(1650.36,1042.10) scale(1.000,1.002)">i</text><text transform="translate(1658.18,1042.10) scale(0.847,0.920)">o</text><text transform="translate(1668.03,1042.10) scale(0.942,0.920)">n</text><text transform="translate(1681.53,1039.60) scale(1.000,0.950)">(</text><text transform="translate(1689.01,1042.10) scale(0.526,1.055)">%</text><text transform="translate(1699.78,1039.60) scale(1.000,0.950)">)</text></g>
<g font-size="20.83" fill="#000"><text transform="translate(1532.92,1070.37) scale(0.598,1.055)">M</text><text transform="translate(1546.21,1070.37) scale(1.000,1.002)">i</text><text transform="translate(1553.99,1070.37) scale(0.889,1.002)">d</text><text transform="translate(1567.03,1070.37) scale(1.000,1.002)">l</text><text transform="translate(1577.46,1070.37) scale(1.000,1.002)">i</text><text transform="translate(1584.71,1070.37) scale(0.942,0.920)">n</text><text transform="translate(1595.68,1070.37) scale(0.852,0.920)">e</text></g>
<g font-size="20.83" fill="#000"><text transform="translate(1533.36,1098.64) scale(0.586,1.055)">O</text><text transform="translate(1544.30,1098.64) scale(0.811,0.920)">v</text><text transform="translate(1554.02,1098.64) scale(0.852,0.920)">e</text><text transform="translate(1565.37,1098.64) scale(1.000,0.920)">r</text><text transform="translate(1574.41,1098.64) scale(0.889,1.002)">b</text><text transform="translate(1585.28,1098.64) scale(0.847,0.920)">o</text><text transform="translate(1595.16,1098.64) scale(0.942,0.920)">u</text><text transform="translate(1606.07,1098.64) scale(0.889,0.920)">g</text><text transform="translate(1615.89,1098.64) scale(0.948,1.002)">h</text><text font-family="Liberation Mono" transform="translate(1626.22,1098.64) scale(0.916,1.002)">t</text><text transform="translate(1648.02,1098.64) scale(0.730,1.055)">Z</text><text transform="translate(1658.18,1098.64) scale(0.847,0.920)">o</text><text transform="translate(1668.03,1098.64) scale(0.942,0.920)">n</text><text transform="translate(1679.00,1098.64) scale(0.852,0.920)">e</text></g>
<g font-size="20.83" fill="#000"><text transform="translate(1533.36,1126.91) scale(0.586,1.055)">O</text><text transform="translate(1544.30,1126.91) scale(0.811,0.920)">v</text><text transform="translate(1554.02,1126.91) scale(0.852,0.920)">e</text><text transform="translate(1565.37,1126.91) scale(1.000,0.920)">r</text><text transform="translate(1575.07,1126.91) scale(0.917,0.920)">s</text><text transform="translate(1585.28,1126.91) scale(0.847,0.920)">o</text><text transform="translate(1598.28,1126.91) scale(1.000,1.002)">l</text><text transform="translate(1606.07,1126.91) scale(0.889,1.002)">d</text><text transform="translate(1627.19,1126.91) scale(0.730,1.055)">Z</text><text transform="translate(1637.35,1126.91) scale(0.847,0.920)">o</text><text transform="translate(1647.20,1126.91) scale(0.942,0.920)">n</text><text transform="translate(1658.17,1126.91) scale(0.852,0.920)">e</text></g>
<g font-size="29.17" fill="#000"><text transform="translate(621.61,36.40) scale(0.844,1.010)">3</text><text transform="translate(635.95,36.40) scale(0.866,1.010)">9</text><text transform="translate(650.53,36.40) scale(0.866,1.010)">9</text><text transform="translate(665.12,36.40) scale(0.866,1.010)">9</text><text transform="translate(679.95,36.40) scale(0.844,1.010)">3</text><text transform="translate(694.49,36.40) scale(0.844,1.010)">5</text><rect x="725.08" y="24.97" width="12.54" height="2.28"/><text transform="translate(754.20,36.40) scale(0.695,1.010)">S</text><text transform="translate(767.92,36.40) scale(0.942,0.830)">u</text><text transform="translate(782.62,36.40) scale(0.889,0.830)">p</text><text transform="translate(797.21,36.40) scale(0.889,0.830)">p</text><text transform="translate(812.43,36.40) scale(0.847,0.830)">o</text><text transform="translate(828.30,36.40) scale(1.000,0.830)">r</text><text font-family="Liberation Mono" transform="translate(840.59,36.40) scale(0.916,0.959)">t</text><text transform="translate(870.84,36.40) scale(0.779,0.830)">a</text><text transform="translate(884.56,36.40) scale(0.942,0.830)">n</text><text transform="translate(899.88,36.40) scale(0.889,0.959)">d</text><text transform="translate(928.53,36.40) scale(0.674,1.010)">R</text><text transform="translate(943.67,36.40) scale(0.852,0.830)">e</text><text transform="translate(958.57,36.40) scale(0.917,0.830)">s</text><text transform="translate(976.50,36.40) scale(1.000,0.959)">i</text><text transform="translate(987.74,36.40) scale(0.917,0.830)">s</text><text font-family="Liberation Mono" transform="translate(1001.03,36.40) scale(0.916,0.959)">t</text><text transform="translate(1016.69,36.40) scale(0.779,0.830)">a</text><text transform="translate(1030.41,36.40) scale(0.942,0.830)">n</text><text transform="translate(1045.67,36.40) scale(0.928,0.830)">c</text><text transform="translate(1060.35,36.40) scale(0.852,0.830)">e</text><text transform="translate(1090.54,36.40) scale(0.603,1.010)">A</text><text transform="translate(1103.34,36.40) scale(0.942,0.830)">n</text><text transform="translate(1118.78,36.40) scale(0.779,0.830)">a</text><text transform="translate(1136.92,36.40) scale(1.000,0.959)">l</text><text transform="translate(1148.86,36.40) scale(0.807,0.830)">y</text><text transform="translate(1162.76,36.40) scale(0.917,0.830)">s</text><text transform="translate(1180.69,36.40) scale(1.000,0.959)">i</text><text transform="translate(1191.93,36.40) scale(0.917,0.830)">s</text></g>
<g font-size="25.00" fill="#000"><text transform="translate(889.27,1262.20) scale(0.675,0.930)">D</text><text transform="translate(902.32,1262.20) scale(0.779,0.800)">a</text><text font-family="Liberation Mono" transform="translate(913.90,1262.20) scale(0.916,0.883)">t</text><text transform="translate(927.24,1262.20) scale(0.852,0.800)">e</text></g>
<g transform="translate(31.8,459.1) rotate(-90)"><g font-size="25.00" fill="#000"><text transform="translate(-0.29,0.00) scale(0.752,0.930)">P</text><text transform="translate(13.96,0.00) scale(1.000,0.800)">r</text><text transform="translate(28.48,0.00) scale(1.000,0.883)">i</text><text transform="translate(37.76,0.00) scale(0.928,0.800)">c</text><text transform="translate(50.34,0.00) scale(0.852,0.800)">e</text></g></g>
<g transform="translate(41.7,1186.1) rotate(-90)"><g font-size="25.00" fill="#000"><text transform="translate(-0.29,0.00) scale(0.752,0.930)">P</text><text transform="translate(13.96,0.00) scale(1.000,0.800)">r</text><text transform="translate(28.48,0.00) scale(1.000,0.883)">i</text><text transform="translate(37.76,0.00) scale(0.928,0.800)">c</text><text transform="translate(50.34,0.00) scale(0.852,0.800)">e</text><text transform="translate(74.71,0.00) scale(0.752,0.930)">P</text><text transform="translate(87.86,0.00) scale(0.847,0.800)">o</text><text transform="translate(100.61,0.00) scale(0.917,0.800)">s</text><text transform="translate(115.98,0.00) scale(1.000,0.883)">i</text><text font-family="Liberation Mono" transform="translate(124.50,0.00) scale(0.916,0.883)">t</text><text transform="translate(140.98,0.00) scale(1.000,0.883)">i</text><text transform="translate(150.36,0.00) scale(0.847,0.800)">o</text><text transform="translate(162.19,0.00) scale(0.942,0.800)">n</text><text transform="translate(178.39,-1.88) scale(1.000,0.940)">(</text><text transform="translate(187.36,0.00) scale(0.526,0.930)">%</text><text transform="translate(200.29,-1.88) scale(1.000,0.940)">)</text></g></g>
</svg>
</body></html>
